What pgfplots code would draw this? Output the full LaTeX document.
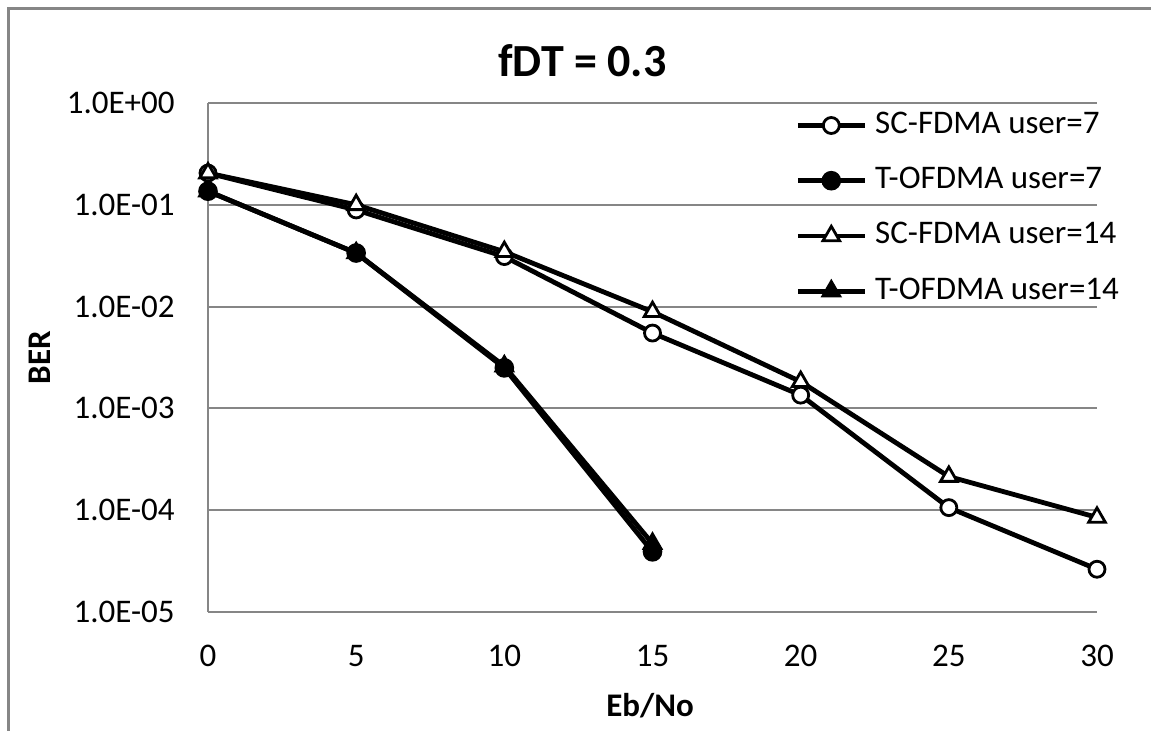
\documentclass[border=0pt]{standalone}
\usepackage{fontspec}
\setmainfont{Carlito}
\usepackage{pgfplots}
\pgfplotsset{compat=1.18}
\definecolor{excelgray}{RGB}{134,134,134}

\begin{document}
\fontsize{16.5}{20}\selectfont
\begin{tikzpicture}
\useasboundingbox (0,0) rectangle (575.5pt,-365.5pt);
% chart frame (only left and top edges are visible)
\draw[excelgray, line width=1.5pt] (4pt,-366pt) -- (4pt,-4.5pt) -- (576pt,-4.5pt);
\begin{axis}[
    at={(104pt,-306pt)}, anchor=south west,
    scale only axis, width=444.5pt, height=254.5pt,
    ymode=log,
    xmin=0, xmax=30, ymin=1e-5, ymax=1,
    xtick={0,5,10,15,20,25,30},
    xticklabels={0,5,10,15,20,25,30},
    ytick={1e-5,1e-4,1e-3,1e-2,1e-1,1},
    yticklabels={1.0E-05,1.0E-04,1.0E-03,1.0E-02,1.0E-01,1.0E+00},
    axis x line=bottom, axis y line=left,
    axis line style={excelgray, line width=1pt, -},
    ymajorgrids, grid style={excelgray, line width=1pt},
    major tick length=0pt, minor tick length=0pt,
    tick label style={font=\fontsize{16.5}{20}\selectfont},
    xticklabel style={anchor=north, inner sep=0pt, yshift=-16.3pt},
    yticklabel style={anchor=east, inner sep=0pt, xshift=-16.5pt},
    clip=false,
    legend style={at={(axis description cs:0.6603,0.988)}, anchor=north west,
        draw=none, fill=none, inner sep=0pt, row sep=11.6pt, column sep=4pt,
        font=\fontsize{16.5}{20}\selectfont,
        nodes={inner sep=0pt, text height=12pt, text depth=4pt}},
    legend cell align=left,
    legend image code/.code={\draw[mark repeat=2,mark phase=2]
        plot coordinates {(0pt,0pt) (16.75pt,0pt) (33.5pt,0pt)};},
]
\addplot[black, line width=2.4pt, mark=*, mark size=4pt,
    mark options={fill=white, line width=1.4pt}]
    coordinates {(0,0.205) (5,0.089) (10,0.031) (15,0.0055) (20,0.00135) (25,0.000106) (30,0.0000263)};
\addlegendentry{SC-FDMA user=7}
\addplot[black, line width=2.4pt, mark=*, mark size=4.2pt,
    mark options={fill=black, line width=1.4pt}]
    coordinates {(0,0.136) (5,0.0336) (10,0.0025) (15,0.000039)};
\addlegendentry{T-OFDMA user=7}
\addplot[black, line width=2.4pt, mark=triangle*, mark size=4.8pt,
    mark options={fill=white, line width=1.4pt}]
    coordinates {(0,0.205) (5,0.1) (10,0.0346) (15,0.0089) (20,0.00183) (25,0.000214) (30,0.000085)};
\addlegendentry{SC-FDMA user=14}
\addplot[black, line width=2.4pt, mark=triangle*, mark size=4.8pt,
    mark options={fill=black, line width=1.4pt}]
    coordinates {(0,0.136) (5,0.0336) (10,0.0026) (15,0.000047)};
\addlegendentry{T-OFDMA user=14}
\end{axis}
\node[font=\fontsize{23}{27}\selectfont\bfseries, anchor=base] at (291.25pt,-38.5pt) {fDT = 0.3};
\node[font=\bfseries, anchor=base] at (325pt,-358.3pt) {Eb/No};
\node[font=\bfseries, rotate=90, anchor=base] at (25pt,-178.75pt) {BER};
\end{tikzpicture}
\end{document}
